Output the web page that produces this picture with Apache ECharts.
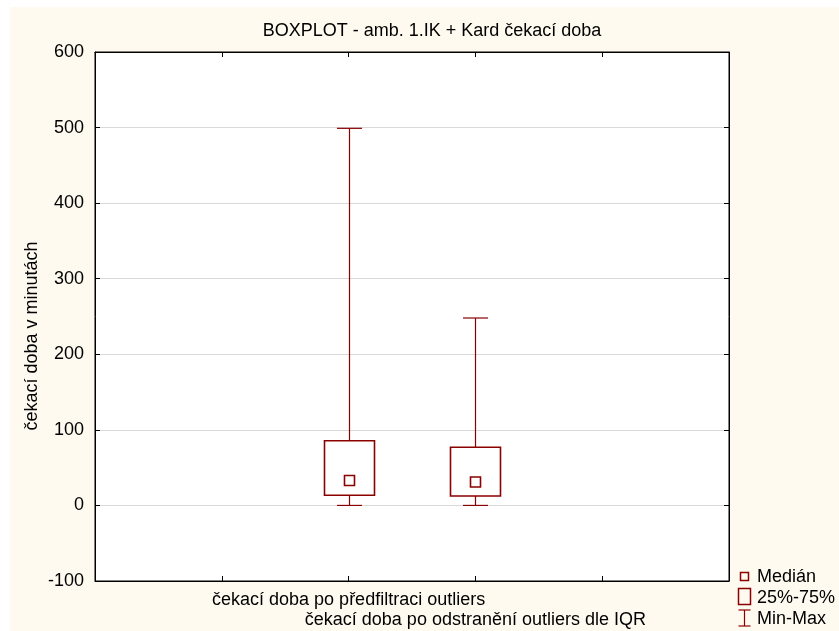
<!DOCTYPE html>
<html>
<head>
<meta charset="utf-8">
<script src="https://cdn.jsdelivr.net/npm/echarts@6/dist/echarts.min.js"></script>
<style>
html,body{margin:0;padding:0;background:#ffffff;}
#chart{position:absolute;left:10px;top:7px;width:829px;height:624px;}
</style>
</head>
<body>
<div id="chart"></div>
<script>
const titleText = 'BOXPLOT - amb. 1.IK + Kard čekací doba';
const yAxisTitle = 'čekací doba v minutách';
const categories = ['', '', 'čekací doba po předfiltraci outliers', 'čekací doba po odstranění outliers dle IQR', '', ''];
const seriesIndex = [2, 3];
const minVals = [0, 0];
const q1Vals = [13.5, 12.5];
const medianVals = [33, 31];
const q3Vals = [85.5, 77];
const maxVals = [499, 248];
const yTicks = {min: -100, max: 600, interval: 100};
const legendLabels = ['Medián', '25%-75%', 'Min-Max'];

const COLOR = '#8b0000';
const FONT = 'Arial, "Liberation Sans", sans-serif';
const FS = 18;

const boxData = seriesIndex.map((c, i) => [c, minVals[i], q1Vals[i], medianVals[i], q3Vals[i], maxVals[i]]);

const chart = echarts.init(document.getElementById('chart'), null, {renderer: 'canvas'});

function renderBox(params, api) {
  const x = api.value(0);
  const pMin = api.coord([x, api.value(1)]);
  const pQ1 = api.coord([x, api.value(2)]);
  const pMed = api.coord([x, api.value(3)]);
  const pQ3 = api.coord([x, api.value(4)]);
  const pMax = api.coord([x, api.value(5)]);
  const cx = Math.round(pMin[0]) + 0.5;
  const boxW = 50, capW = 25, medS = 10;
  const ls = {stroke: COLOR, lineWidth: 1.2, fill: null};
  return {
    type: 'group',
    children: [
      {type: 'line', shape: {x1: cx, y1: pMax[1], x2: cx, y2: pQ3[1]}, style: ls},
      {type: 'line', shape: {x1: cx, y1: pQ1[1], x2: cx, y2: pMin[1]}, style: ls},
      {type: 'line', shape: {x1: cx - capW / 2, y1: pMax[1], x2: cx + capW / 2, y2: pMax[1]}, style: ls},
      {type: 'line', shape: {x1: cx - capW / 2, y1: pMin[1], x2: cx + capW / 2, y2: pMin[1]}, style: ls},
      {type: 'rect', shape: {x: cx - boxW / 2, y: pQ3[1], width: boxW, height: pQ1[1] - pQ3[1]},
        style: {stroke: COLOR, lineWidth: 1.6, fill: '#ffffff'}},
      {type: 'rect', shape: {x: cx - medS / 2, y: pMed[1] - medS / 2, width: medS, height: medS},
        style: {stroke: COLOR, lineWidth: 1.6, fill: '#ffffff'}}
    ]
  };
}

const legendX = 727, legendTextX = 747;
const legendYs = [569, 590, 611];

const option = {
  backgroundColor: '#fffaf0',
  animation: false,
  textStyle: {fontFamily: FONT},
  title: {
    text: titleText,
    left: 417, top: 10, textAlign: 'center',
    textStyle: {fontSize: FS, fontWeight: 'normal', color: '#000', fontFamily: FONT}
  },
  grid: {
    left: 85, top: 45, width: 634, height: 529,
    show: true, backgroundColor: '#ffffff', borderColor: '#000', borderWidth: 1
  },
  xAxis: [{
    type: 'category', data: categories, boundaryGap: false, position: 'bottom',
    axisLine: {onZero: false, lineStyle: {color: '#000'}},
    axisTick: {inside: true, length: 5, lineStyle: {color: '#000'}, interval: 0},
    axisLabel: {
      interval: 0, color: '#000', fontSize: FS, margin: 9, lineHeight: 20,
      formatter: (v, i) => (i === 3 ? '\n' + v : v)
    },
    splitLine: {show: false}
  }, {
    type: 'category', data: categories, boundaryGap: false, position: 'top',
    axisLine: {onZero: false, lineStyle: {color: '#000'}},
    axisTick: {inside: true, length: 5, lineStyle: {color: '#000'}, interval: 0},
    axisLabel: {show: false},
    splitLine: {show: false}
  }],
  yAxis: [{
    type: 'value', min: yTicks.min, max: yTicks.max, interval: yTicks.interval,
    axisLine: {show: true, onZero: false, lineStyle: {color: '#000'}},
    axisTick: {show: true, inside: true, length: 5, lineStyle: {color: '#000'}},
    axisLabel: {color: '#000', fontSize: FS, margin: 11},
    splitLine: {show: true, lineStyle: {color: '#d9d9d9', width: 1}}
  }, {
    type: 'value', min: yTicks.min, max: yTicks.max, interval: yTicks.interval, position: 'right',
    axisLine: {show: true, onZero: false, lineStyle: {color: '#000'}},
    axisTick: {show: true, inside: true, length: 5, lineStyle: {color: '#000'}},
    axisLabel: {show: false},
    splitLine: {show: false}
  }],
  series: [{
    type: 'custom',
    xAxisIndex: 0, yAxisIndex: 0,
    renderItem: renderBox,
    encode: {x: 0, y: [1, 2, 3, 4, 5]},
    data: boxData,
    clip: false
  }],
  graphic: [
    {
      type: 'text', x: 22, y: 329, rotation: Math.PI / 2,
      style: {text: yAxisTitle, fontSize: FS, fill: '#000', fontFamily: FONT, align: 'center', verticalAlign: 'middle'}
    },
    {type: 'rect', shape: {x: legendX + 3.5, y: legendYs[0] - 3.5, width: 8, height: 8},
      style: {stroke: COLOR, lineWidth: 1.5, fill: 'none'}},
    {type: 'rect', shape: {x: legendX + 1.5, y: legendYs[1] - 8.5, width: 12, height: 16},
      style: {stroke: COLOR, lineWidth: 1.5, fill: 'none'}},
    {type: 'line', shape: {x1: legendX + 7.5, y1: legendYs[2] - 8, x2: legendX + 7.5, y2: legendYs[2] + 8}, style: {stroke: COLOR, lineWidth: 1.2}},
    {type: 'line', shape: {x1: legendX + 1.5, y1: legendYs[2] - 8, x2: legendX + 13.5, y2: legendYs[2] - 8}, style: {stroke: COLOR, lineWidth: 1.2}},
    {type: 'line', shape: {x1: legendX + 1.5, y1: legendYs[2] + 8, x2: legendX + 13.5, y2: legendYs[2] + 8}, style: {stroke: COLOR, lineWidth: 1.2}},
    {type: 'text', x: legendTextX, y: legendYs[0] + 1, style: {text: legendLabels[0], fontSize: FS, fill: '#000', fontFamily: FONT, verticalAlign: 'middle'}},
    {type: 'text', x: legendTextX, y: legendYs[1] + 1, style: {text: legendLabels[1], fontSize: FS, fill: '#000', fontFamily: FONT, verticalAlign: 'middle'}},
    {type: 'text', x: legendTextX, y: legendYs[2] + 1, style: {text: legendLabels[2], fontSize: FS, fill: '#000', fontFamily: FONT, verticalAlign: 'middle'}}
  ]
};
chart.setOption(option);
</script>
</body>
</html>
